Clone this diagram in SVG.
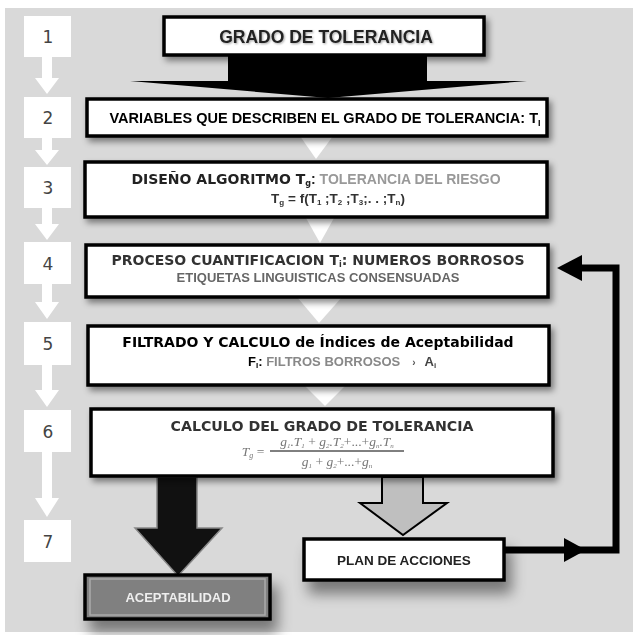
<svg xmlns="http://www.w3.org/2000/svg" width="633" height="635" viewBox="0 0 633 635">
<defs>
<filter id="sh" x="-10%" y="-20%" width="130%" height="160%">
<feDropShadow dx="3" dy="4" stdDeviation="3" flood-color="#000" flood-opacity="0.45"/>
</filter>
<filter id="shb" x="-20%" y="-40%" width="150%" height="220%">
<feDropShadow dx="6" dy="12" stdDeviation="7" flood-color="#000" flood-opacity="0.45"/>
</filter>
<filter id="ts" x="-5%" y="-30%" width="110%" height="160%">
<feDropShadow dx="1" dy="1" stdDeviation="1" flood-color="#000" flood-opacity="0.35"/>
</filter>
</defs>
<style>
.box{fill:#fff;stroke:#000;stroke-width:3.5}
.num{fill:#fff}
.nt{font-family:"DejaVu Sans",sans-serif;font-size:17px;fill:#444;text-anchor:middle}
.wa{fill:#fff}
.a{font-family:"Liberation Sans",Arial,sans-serif;font-weight:bold;text-anchor:middle}
.d{font-family:"DejaVu Sans",Verdana,sans-serif;font-weight:bold;text-anchor:middle}
.f{font-family:"Liberation Serif","Times New Roman",serif;font-style:italic;fill:#777;font-size:13.5px;text-anchor:middle}
.fb{fill:none;stroke:#000;stroke-width:7}
</style>
<rect x="0" y="0" width="633" height="635" fill="#fff"/>
<rect x="5" y="8" width="628" height="624" fill="#d9d9d9"/>

<g id="steps">
<rect class="num" x="24" y="16" width="47" height="41"/>
<text class="nt" x="48" y="43">1</text>
<rect class="num" x="24" y="97" width="47" height="41"/>
<text class="nt" x="48" y="124">2</text>
<rect class="num" x="24" y="167" width="47" height="41"/>
<text class="nt" x="48" y="194">3</text>
<rect class="num" x="24" y="242" width="47" height="42"/>
<text class="nt" x="48" y="270">4</text>
<rect class="num" x="24" y="322" width="47" height="43"/>
<text class="nt" x="48" y="350">5</text>
<rect class="num" x="24" y="410" width="47" height="42"/>
<text class="nt" x="48" y="438">6</text>
<rect class="num" x="24" y="520" width="47" height="42"/>
<text class="nt" x="48" y="548">7</text>
</g>

<g id="connectors">
<polygon class="wa" points="42,57 52,57 52,78 59,78 47,94 35,78 42,78"/>
<polygon class="wa" points="42,138 52,138 52,150 59,150 47,165 35,150 42,150"/>
<polygon class="wa" points="42,208 52,208 52,224 59,224 47,240 35,224 42,224"/>
<polygon class="wa" points="42,284 52,284 52,302 59,302 47,319 35,302 42,302"/>
<polygon class="wa" points="42,365 52,365 52,390 59,390 47,407 35,390 42,390"/>
<polygon class="wa" points="42,452 52,452 52,498 59,498 47,517 35,498 42,498"/>
<polygon fill="#000" points="228,50 427,50 427,81 527,81 328,98 130,81 228,81"/>
<polygon fill="#fff" points="300,136 333,136 316,159"/>
<polygon fill="#fff" points="306,218 334,218 320,243"/>
<polygon fill="#fff" points="297,297 342,297 319,323"/>
<polygon fill="#fff" points="305,386 345,386 325,406"/>
<polygon fill="#111" stroke="#888" stroke-width="1.5" points="157,477 197,477 197,528 222,528 178,576 135,528 157,528"/>
<polygon fill="#bfbfbf" stroke="#000" stroke-width="2" points="382,477 423,477 423,503 447,503 403,535 360,503 382,503"/>
<polyline class="fb" points="505,550 616,550 616,268 580,268"/>
<polygon fill="#000" points="564,538 586,550 564,562"/>
<polygon fill="#000" points="582,255 557,268 582,281"/>
</g>

<g id="n1" filter="url(#sh)">
<rect class="box" x="164" y="17" width="320" height="38"/>
<text class="a" x="326" y="43" font-size="17.5" fill="#222" filter="url(#ts)">GRADO DE TOLERANCIA</text>
</g>

<g id="n2" filter="url(#sh)">
<rect class="box" x="87" y="99" width="460" height="37"/>
<text class="a" x="325" y="123" font-size="14.5" fill="#000">VARIABLES QUE DESCRIBEN EL GRADO DE TOLERANCIA: T<tspan font-size="9" dy="3">I</tspan></text>
</g>

<g id="n3" filter="url(#sh)">
<rect class="box" x="85" y="162" width="462" height="55"/>
<text x="316" y="184" text-anchor="middle" font-size="14"><tspan font-family="DejaVu Sans" font-weight="bold" fill="#222">DISEÑO ALGORITMO T<tspan font-size="8" dy="2">g</tspan></tspan><tspan dy="-2" font-family="Liberation Sans" font-weight="bold" fill="#222">: </tspan><tspan font-family="Liberation Sans" font-weight="bold" fill="#999">TOLERANCIA DEL RIESGO</tspan></text>
<text x="338" y="203" text-anchor="middle" font-family="Liberation Sans" font-weight="bold" font-size="13.5" fill="#333">T<tspan font-size="8" dy="2">g</tspan><tspan dy="-2"> = f(T</tspan><tspan font-size="8" dy="2">1</tspan><tspan dy="-2"> ;T</tspan><tspan font-size="8" dy="2">2</tspan><tspan dy="-2"> ;T</tspan><tspan font-size="8" dy="2">3</tspan><tspan dy="-2">;. . ;T</tspan><tspan font-size="8" dy="2">n</tspan><tspan dy="-2">)</tspan></text>
</g>

<g id="n4" filter="url(#sh)">
<rect class="box" x="86" y="245" width="462" height="52"/>
<text class="d" x="318" y="265" font-size="14" fill="#333">PROCESO CUANTIFICACION T<tspan font-size="8" dy="2">i</tspan><tspan dy="-2">: NUMEROS BORROSOS</tspan></text>
<text class="a" x="318" y="282" font-size="13" fill="#666">ETIQUETAS LINGUISTICAS CONSENSUADAS</text>
</g>

<g id="n5" filter="url(#sh)">
<rect class="box" x="88" y="326" width="461" height="59"/>
<text class="d" x="318" y="347" font-size="14" fill="#000">FILTRADO Y CALCULO de Índices de Aceptabilidad</text>
<text x="248" y="366" font-family="Liberation Sans" font-weight="bold" font-size="13"><tspan fill="#000">F</tspan><tspan fill="#000" font-size="8" dy="2">I</tspan><tspan dy="-2" fill="#000">: </tspan><tspan fill="#888">FILTROS BORROSOS</tspan><tspan fill="#555" font-size="10" dx="12">›</tspan><tspan fill="#444" dx="9">A</tspan><tspan fill="#444" font-size="8" dy="2">i</tspan></text>
</g>

<g id="n6" filter="url(#sh)">
<rect class="box" x="91" y="409" width="462" height="67"/>
<text class="d" x="322" y="431" font-size="14.2" fill="#333">CALCULO DEL GRADO DE TOLERANCIA</text>
<text class="f" x="253" y="456">T<tspan font-size="8" dy="2">g</tspan><tspan dy="-2" font-style="normal"> =</tspan></text>
<text class="f" x="337" y="446">g<tspan font-size="7" dy="2">1</tspan><tspan dy="-2">.T</tspan><tspan font-size="7" dy="2">1</tspan><tspan dy="-2" font-style="normal"> + </tspan><tspan>g</tspan><tspan font-size="7" dy="2">2</tspan><tspan dy="-2">.T</tspan><tspan font-size="7" dy="2">2</tspan><tspan dy="-2" font-style="normal">+...+</tspan><tspan>g</tspan><tspan font-size="7" dy="2">n</tspan><tspan dy="-2">.T</tspan><tspan font-size="7" dy="2">n</tspan></text>
<line x1="270" y1="451" x2="404" y2="451" stroke="#000" stroke-width="1"/>
<text class="f" x="337" y="466">g<tspan font-size="7" dy="2">1</tspan><tspan dy="-2" font-style="normal"> + </tspan><tspan>g</tspan><tspan font-size="7" dy="2">2</tspan><tspan dy="-2" font-style="normal">+...+</tspan><tspan>g</tspan><tspan font-size="7" dy="2">n</tspan></text>
</g>

<g id="n7" filter="url(#shb)">
<rect x="85" y="575" width="185" height="44" fill="#808080" stroke="#000" stroke-width="3.5"/>
<rect x="90" y="579" width="175" height="36" fill="none" stroke="#aaa" stroke-width="1.5"/>
<text class="a" x="178" y="602" font-size="13" fill="#eee">ACEPTABILIDAD</text>
</g>

<g id="n8" filter="url(#shb)">
<rect class="box" x="304" y="539" width="200" height="41"/>
<text class="a" x="404" y="565" font-size="13.5" fill="#222">PLAN DE ACCIONES</text>
</g>
</svg>
